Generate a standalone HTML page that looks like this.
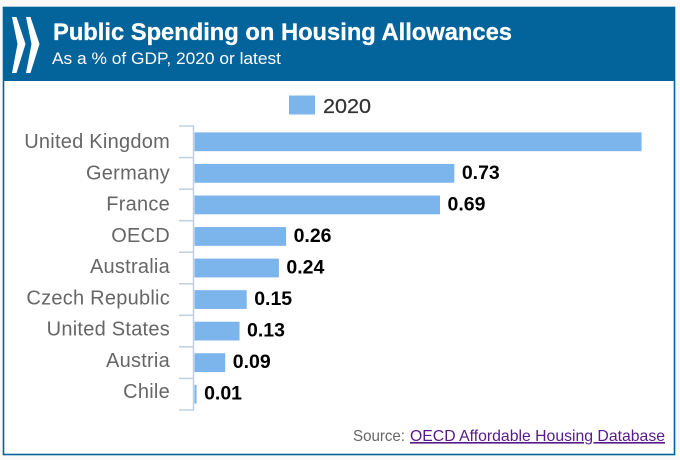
<!DOCTYPE html>
<html lang="en">
<head>
<meta charset="utf-8">
<title>Public Spending on Housing Allowances</title>
<style>
html,body{margin:0;padding:0;width:680px;height:460px;overflow:hidden;background:#f9f9f9}
svg{display:block}
text{font-family:"Liberation Sans",sans-serif}
</style>
</head>
<body>
<svg id="chart" xmlns="http://www.w3.org/2000/svg" width="680" height="460" viewBox="0 0 680 460">
  <rect x="3.5" y="7.5" width="671" height="447" fill="#ffffff" stroke="#03639b" stroke-width="1.6"/>
  <rect x="3" y="7" width="672" height="74" fill="#03639b"/>
  <g fill="#ffffff">
    <polygon points="12,17 16.5,17 25.5,44 16.5,73 12,73 17.5,44"/>
    <polygon points="26,17 30.5,17 39.5,44 30.5,73 26,73 31.5,44"/>
  </g>
  <text x="53" y="40" font-size="24.5" font-weight="700" fill="#ffffff" stroke="#ffffff" stroke-width="0.3" textLength="459" lengthAdjust="spacingAndGlyphs">Public Spending on Housing Allowances</text>
  <text x="52" y="64" font-size="17" fill="#ffffff" textLength="229" lengthAdjust="spacingAndGlyphs">As a % of GDP, 2020 or latest</text>
  <rect x="289" y="95.5" width="26" height="19" fill="#7cb5ec"/>
  <text x="323" y="113" font-size="20.5" fill="#333333" stroke="#333333" stroke-width="0.25" textLength="48" lengthAdjust="spacingAndGlyphs">2020</text>
  <g id="plot"></g>
  <text x="353" y="441" font-size="16" fill="#666666" textLength="52" lengthAdjust="spacingAndGlyphs">Source:</text>
  <a href="#">
    <text x="410" y="441" font-size="16" fill="#551a8b" text-decoration="underline" textLength="255" lengthAdjust="spacingAndGlyphs">OECD Affordable Housing Database</text>
  </a>
</svg>
<script>
const categories = ["United Kingdom","Germany","France","OECD","Australia","Czech Republic","United States","Austria","Chile"];
const values2020 = [1.253,0.73,0.69,0.26,0.24,0.15,0.13,0.09,0.01];

const NS = "http://www.w3.org/2000/svg";
const plot = document.getElementById("plot");
const zeroX = 193, barStart = 194.5, plotRight = 672, plotTop = 126, plotBottom = 410;
const pxPerUnit = 358;
const xScale = v => zeroX + v * pxPerUnit;
const band = (plotBottom - plotTop) / categories.length;
const yBand = i => plotTop + i * band;
const labelBaseline = i => plotTop + 22 + i * 31.25;
const barHeight = 18.8;

function make(tag, attrs, text) {
  const el = document.createElementNS(NS, tag);
  for (const k in attrs) el.setAttribute(k, attrs[k]);
  if (text !== undefined) el.textContent = text;
  return el;
}

const axisLine = make("line", {x1: 193.5, x2: 193.5, y1: plotTop, y2: plotBottom, stroke: "#c0d0e0", "stroke-width": 1.5});


plot.appendChild(axisLine);

for (let i = 0; i <= categories.length; i++) {
  const y = yBand(i);
  const tick = make("line", {x1: 179, x2: 194, y1: y, y2: y, stroke: "#c0d0e0", "stroke-width": 1.5});
  
  
  plot.appendChild(tick);
}

categories.forEach((name, i) => {
  const cy = yBand(i) + band / 2;
  const label = make("text", {x: 170, y: labelBaseline(i), "text-anchor": "end", "font-size": 20, "letter-spacing": 0.25, fill: "#666666"}, name);
  
  
  plot.appendChild(label);

  const v = values2020[i];
  const bar = make("rect", {x: barStart, y: cy - barHeight / 2, width: Math.max(xScale(v) - barStart, 1), height: barHeight, fill: "#7cb5ec"});
  
  
  plot.appendChild(bar);

  const labelX = xScale(v) + 7.5;
  if (labelX + 38 <= plotRight) {
    const valueLabel = make("text", {x: labelX, y: cy + 5.5, "font-size": 19.5, "font-weight": 700, fill: "#000000"}, v.toFixed(2));
    
    
    plot.appendChild(valueLabel);
  }
});
</script>
</body>
</html>
